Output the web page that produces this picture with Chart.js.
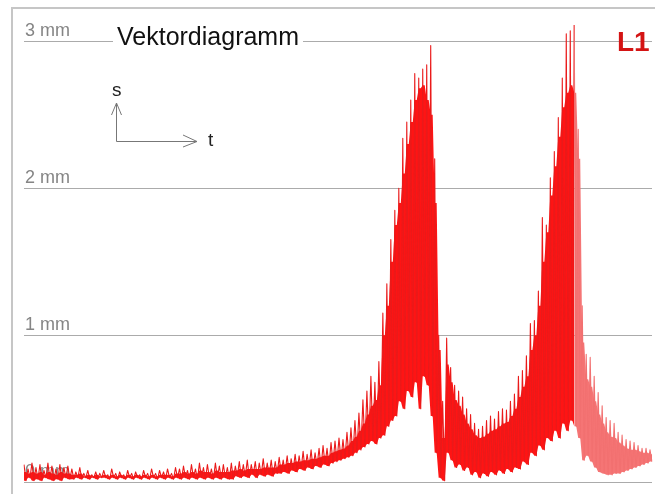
<!DOCTYPE html>
<html>
<head>
<meta charset="utf-8">
<script src="https://cdn.jsdelivr.net/npm/chart.js@4.4.1/dist/chart.umd.min.js"></script>
<style>
  body { margin: 0; background: #fff; font-family: "Liberation Sans", Arial, sans-serif; }
  #wrap { position: relative; width: 655px; height: 494px; overflow: hidden; }
  #frame { position: absolute; left: 11px; top: 7px; width: 700px; height: 600px;
           border-left: 2px solid #c6c6c6; border-top: 2px solid #c6c6c6; pointer-events: none; }
  #title { position: absolute; left: 113px; top: 24px; padding: 0 4px; background: #fff;
           font-size: 25px; line-height: 25px; color: #111; }
  #tag { position: absolute; left: 617px; top: 28px; font-size: 28px; line-height: 28px;
         font-weight: bold; color: #d41414; }
  .lbl { position: absolute; font-size: 19px; line-height: 19px; color: #222; }
  svg { position: absolute; left: 0; top: 0; pointer-events: none; }
</style>
</head>
<body>
<div id="wrap">
  <canvas id="mycanvas"></canvas>
  <div id="frame"></div>
  <div id="title">Vektordiagramm</div>
  <div id="tag">L1</div>
  <svg width="655" height="494">
    <g stroke="#777" stroke-width="1" fill="none">
      <path d="M116.5 103 V141.5 H197"/>
      <path d="M111.5 115 L116.5 103 L121.5 115"/>
      <path d="M183 135 L197 141.5 L183 147"/>
    </g>
  </svg>
  <div class="lbl" style="left:112px; top:80px;">s</div>
  <div class="lbl" style="left:208px; top:130px;">t</div>
</div>
<script>
// amplitude of the signal in mm, sampled every ~4 px: upper and lower swing
var upper = [
  0.12,0.09,0.13,0.10,0.12,0.08,0.13,0.11,0.09,0.12,0.10,0.11,
  0.09,0.07,0.10,0.06,0.08,0.05,0.07,0.06,0.08,0.05,0.09,0.06,0.07,0.05,0.08,0.06,0.07,0.05,0.08,0.06,0.09,0.06,0.08,0.07,0.09,0.06,0.10,
  0.09,0.11,0.08,0.12,0.09,0.13,0.10,0.12,0.09,0.13,0.11,0.12,0.10,
  0.13,0.11,0.14,0.12,0.15,0.12,0.14,0.13,0.16,0.13,0.15,0.14,
  0.17,0.15,0.18,0.16,0.19,0.18,0.21,0.19,0.22,0.20,0.23,
  0.25,0.23,0.27,0.28,0.30,0.29,0.34,
  0.37,0.42,0.47,0.56,0.62,
  0.72,0.68,0.82,
  1.15,1.35,1.65,1.85,2.00,2.34,2.45,2.60,2.78,2.75,2.81,2.84,2.97,2.20,1.00,0.55,
  0.98,0.78,0.66,0.62,0.58,0.50,0.46,0.40,0.36,0.38,0.42,0.45,0.43,0.48,0.50,0.49,0.55,0.60,0.72,0.76,0.86,
  1.08,1.10,1.30,1.80,1.75,2.07,2.25,2.48,2.75,3.05,3.07,3.11,2.40,1.20,
  0.87,0.85,0.72,0.61,0.52,0.44,0.42,0.40,0.34,0.32,0.29,0.28,0.27,0.25,0.23,0.23,0.22
];
var lower = [
  0.01,0.03,0.01,0.02,0.01,0.03,0.02,0.01,0.02,0.01,0.03,0.02,
  0.02,0.03,0.02,0.03,0.02,0.03,0.02,0.03,0.03,0.02,0.03,0.02,0.03,0.02,0.03,0.02,0.03,0.02,0.03,0.02,0.03,0.02,0.03,0.02,0.03,0.02,0.03,
  0.02,0.03,0.02,0.03,0.02,0.03,0.02,0.03,0.02,0.03,0.02,0.03,0.02,
  0.02,0.04,0.03,0.04,0.03,0.05,0.03,0.05,0.04,0.05,0.04,0.06,
  0.06,0.07,0.06,0.08,0.07,0.09,0.08,0.10,0.09,0.11,0.10,
  0.12,0.11,0.13,0.14,0.15,0.16,0.17,
  0.18,0.20,0.22,0.24,0.26,
  0.28,0.26,0.30,
  0.32,0.38,0.42,0.45,0.55,0.50,0.62,0.58,0.68,0.50,0.72,0.66,0.45,0.20,0.03,0.01,
  0.20,0.15,0.10,0.12,0.08,0.10,0.05,0.07,0.03,0.06,0.04,0.07,0.05,0.08,0.06,0.09,0.07,0.10,0.09,0.14,0.12,
  0.20,0.18,0.25,0.22,0.30,0.28,0.35,0.30,0.40,0.35,0.42,0.38,0.30,0.15,
  0.18,0.14,0.10,0.07,0.06,0.05,0.05,0.06,0.06,0.07,0.08,0.09,0.10,0.11,0.12,0.13,0.14
];
// top of the solid red body under the spikes, same sampling
var body = [
  0.07,0.06,0.07,0.06,0.07,0.05,0.07,0.06,0.05,0.07,0.06,0.06,
  0.05,0.05,0.06,0.04,0.05,0.04,0.05,0.04,0.05,0.04,0.05,0.04,0.05,0.04,0.05,0.04,0.05,0.04,0.05,0.04,0.05,0.04,0.05,0.05,0.05,0.04,0.06,
  0.06,0.07,0.06,0.07,0.06,0.08,0.07,0.07,0.06,0.08,0.07,0.07,0.07,
  0.08,0.08,0.09,0.08,0.09,0.09,0.09,0.09,0.10,0.10,0.10,0.10,
  0.12,0.12,0.13,0.13,0.14,0.14,0.15,0.15,0.16,0.16,0.17,
  0.18,0.18,0.20,0.21,0.22,0.23,0.25,
  0.28,0.31,0.35,0.40,0.46,
  0.52,0.56,0.66,
  1.00,1.20,1.50,1.75,1.90,2.10,2.30,2.45,2.60,2.68,2.70,2.60,2.50,1.90,0.90,0.30,
  0.80,0.68,0.56,0.52,0.46,0.40,0.36,0.32,0.30,0.31,0.33,0.35,0.36,0.38,0.40,0.41,0.45,0.50,0.58,0.65,0.72,
  0.90,1.00,1.20,1.50,1.70,1.95,2.15,2.35,2.55,2.65,2.70,2.65,2.20,0.95,
  0.70,0.65,0.55,0.46,0.40,0.34,0.31,0.30,0.27,0.25,0.23,0.22,0.22,0.21,0.20,0.20,0.19
];
var yTicks = [0, 1, 2, 3];
var fadeFrom = 138; // samples after the second peak are drawn lighter

var red = '#ff1414', pale = '#f57575';

var values = [], bodyTop = [], bodyLow = [];
for (var k = 0; k < upper.length; k++) {
  values.push(upper[k], lower[k]);
  bodyTop.push(body[k], body[k]);
  bodyLow.push(lower[k], lower[k]);
}
var labels = values.map(function(v, i){ return i; });

function pick(c) { return c.p0DataIndex >= fadeFrom * 2 ? pale : red; }

var ctx = document.getElementById('mycanvas');
new Chart(ctx, {
  type: 'line',
  data: {
    labels: labels,
    datasets: [
      {
        data: values,
        order: 0,
        borderColor: '#ea1a1a',
        borderWidth: 1.1,
        borderJoinStyle: 'round',
        pointRadius: 0,
        tension: 0,
        fill: false,
        segment: { borderColor: function(c){ return c.p0DataIndex >= fadeFrom * 2 ? '#f27070' : '#ea1a1a'; } }
      },
      {
        data: bodyLow,
        order: 1,
        borderWidth: 0,
        pointRadius: 0,
        tension: 0,
        fill: false
      },
      {
        data: bodyTop,
        order: 1,
        borderWidth: 0,
        pointRadius: 0,
        tension: 0,
        backgroundColor: red,
        fill: '-1',
        segment: { backgroundColor: pick }
      }
    ]
  },
  options: {
    responsive: true,
    maintainAspectRatio: false,
    animation: false,
    layout: { padding: { left: 24, right: 3, top: 9, bottom: 10 } },
    plugins: { legend: { display: false }, tooltip: { enabled: false } },
    scales: {
      x: { display: false },
      y: {
        min: 0,
        max: 3.2,
        afterFit: function(s){ s.width = 0; },
        afterBuildTicks: function(s){
          s.ticks = yTicks.map(function(v){ return { value: v }; });
        },
        border: { display: false },
        grid: { color: '#ababab', lineWidth: 1, drawTicks: false },
        ticks: {
          mirror: true,
          padding: 1,
          labelOffset: -10,
          color: '#858585',
          font: { family: 'Liberation Sans', size: 18 },
          callback: function(v){ return v + ' mm'; }
        }
      }
    }
  }
});
</script>
</body>
</html>
